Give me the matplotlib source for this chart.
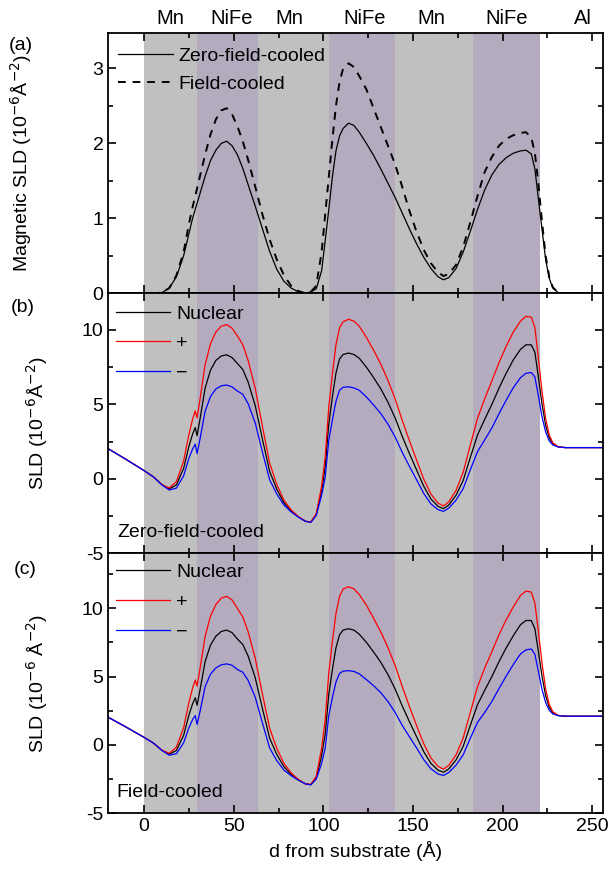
import numpy as np
import matplotlib
matplotlib.use('Agg')
import matplotlib.pyplot as plt
from matplotlib.lines import Line2D
from matplotlib.ticker import MultipleLocator

plt.rcParams['font.family'] = ['Liberation Sans', 'DejaVu Sans']
plt.rcParams['font.size'] = 13
plt.rcParams['axes.unicode_minus'] = False

# depth grid (Angstrom)
d = [-20, -10, 0, 5, 10, 14, 18, 22, 25, 27, 28.5, 29.5, 31, 34, 37, 40, 43, 46, 49, 52,
     55, 58, 62, 66, 70, 74, 78, 82, 86, 90, 93, 96, 99, 101, 103, 105, 107, 109, 111, 114,
     117, 120, 124, 128, 132, 136, 140, 144, 148, 152, 156, 160, 164, 167, 170, 174, 178, 182, 186, 190,
     194, 198, 202, 206, 210, 213, 216, 218, 220, 222, 224, 226, 228, 231, 235, 245, 260]

# (a) magnetic SLD
mag_zfc = [0, 0, 0, 0, 0.01, 0.07, 0.22, 0.5, 0.8, 1.0, 1.12, 1.2, 1.32, 1.56, 1.77, 1.91, 2.0, 2.03, 1.97, 1.85,
           1.67, 1.45, 1.16, 0.86, 0.56, 0.32, 0.16, 0.07, 0.02, 0.0, 0.02, 0.06, 0.3, 0.7, 1.12, 1.55, 1.9, 2.1, 2.2, 2.27,
           2.24, 2.15, 2.0, 1.84, 1.66, 1.47, 1.28, 1.07, 0.86, 0.66, 0.48, 0.33, 0.22, 0.18, 0.21, 0.33, 0.55, 0.83, 1.12, 1.38,
           1.58, 1.72, 1.81, 1.87, 1.9, 1.91, 1.86, 1.66, 1.25, 0.85, 0.45, 0.2, 0.07, 0.01, 0, 0, 0]
mag_fc = [0, 0, 0, 0, 0.01, 0.07, 0.24, 0.55, 0.93, 1.15, 1.3, 1.4, 1.55, 1.85, 2.12, 2.32, 2.44, 2.47, 2.39, 2.23,
          2.03, 1.78, 1.42, 1.05, 0.72, 0.45, 0.24, 0.1, 0.03, 0.0, 0.02, 0.1, 0.55, 1.05, 1.55, 2.05, 2.5, 2.82, 3.0, 3.07,
          3.02, 2.9, 2.72, 2.47, 2.22, 1.97, 1.72, 1.42, 1.1, 0.82, 0.58, 0.4, 0.28, 0.23, 0.26, 0.38, 0.62, 0.95, 1.3, 1.62,
          1.82, 1.97, 2.06, 2.11, 2.14, 2.15, 2.08, 1.87, 1.45, 0.95, 0.5, 0.22, 0.08, 0.01, 0, 0, 0]

# (b) zero-field-cooled SLD
nuc_zfc = [2.02, 1.3, 0.55, 0.15, -0.4, -0.68, -0.4, 0.7, 2.2, 3.0, 3.45, 2.9, 3.9, 6.1, 7.3, 7.95, 8.25, 8.33, 8.15, 7.75,
           7.35, 6.5, 4.9, 2.65, 0.5, -0.7, -1.6, -2.15, -2.55, -2.85, -2.9, -2.4, -0.8, 0.8, 3.7, 5.5, 7.1, 8.05, 8.35, 8.45,
           8.35, 8.1, 7.5, 6.8, 6.05, 5.15, 4.1, 2.85, 1.7, 0.6, -0.5, -1.35, -1.85, -2.0, -1.75, -1.1, -0.1, 1.45, 2.95, 4.0,
           5.0, 6.1, 7.1, 8.0, 8.7, 9.0, 9.0, 8.5, 6.8, 5.0, 3.6, 2.75, 2.35, 2.15, 2.1, 2.1, 2.1]
up_zfc = [2.02, 1.3, 0.55, 0.15, -0.39, -0.61, -0.18, 1.2, 3.0, 4.0, 4.57, 4.1, 5.22, 7.66, 9.07, 9.86, 10.25, 10.36, 10.12, 9.6,
          9.02, 7.95, 6.06, 3.51, 1.06, -0.38, -1.44, -2.08, -2.53, -2.85, -2.88, -2.34, -0.5, 1.5, 4.82, 7.05, 9.0, 10.15, 10.55, 10.72,
          10.59, 10.25, 9.5, 8.64, 7.71, 6.62, 5.38, 3.92, 2.56, 1.26, -0.02, -1.02, -1.63, -1.82, -1.54, -0.77, 0.45, 2.28, 4.07, 5.38,
          6.58, 7.82, 8.91, 9.87, 10.6, 10.91, 10.86, 10.16, 8.05, 5.85, 4.05, 2.95, 2.42, 2.16, 2.1, 2.1, 2.1]
dn_zfc = [2.02, 1.3, 0.55, 0.15, -0.41, -0.75, -0.62, 0.2, 1.4, 2.0, 2.33, 1.7, 2.58, 4.54, 5.53, 6.04, 6.25, 6.3, 6.18, 5.9,
          5.68, 5.05, 3.74, 1.79, -0.06, -1.02, -1.76, -2.22, -2.57, -2.85, -2.92, -2.46, -1.1, 0.1, 2.58, 3.95, 5.2, 5.95, 6.15, 6.18,
          6.11, 5.95, 5.5, 4.96, 4.39, 3.68, 2.82, 1.78, 0.84, -0.06, -0.98, -1.68, -2.07, -2.18, -1.96, -1.43, -0.65, 0.62, 1.83, 2.62,
          3.42, 4.38, 5.29, 6.13, 6.8, 7.09, 7.14, 6.84, 5.55, 4.15, 3.15, 2.55, 2.28, 2.14, 2.1, 2.1, 2.1]

# (c) field-cooled SLD
nuc_fc = [2.02, 1.3, 0.55, 0.15, -0.4, -0.68, -0.4, 0.7, 2.2, 3.0, 3.45, 2.9, 3.9, 6.1, 7.3, 7.95, 8.3, 8.4, 8.22, 7.75,
          7.35, 6.5, 4.9, 2.65, 0.5, -0.7, -1.6, -2.15, -2.55, -2.85, -2.9, -2.4, -0.8, 0.8, 3.7, 5.5, 7.1, 8.05, 8.4, 8.5,
          8.4, 8.1, 7.5, 6.8, 6.05, 5.15, 4.1, 2.85, 1.7, 0.6, -0.5, -1.35, -1.85, -2.0, -1.75, -1.1, -0.1, 1.45, 2.95, 4.0,
          5.0, 6.1, 7.1, 8.0, 8.8, 9.1, 9.1, 8.5, 6.8, 5.0, 3.6, 2.75, 2.35, 2.15, 2.1, 2.1, 2.1]
up_fc = [2.02, 1.3, 0.55, 0.15, -0.39, -0.61, -0.16, 1.25, 3.13, 4.15, 4.75, 4.3, 5.45, 7.95, 9.42, 10.27, 10.74, 10.87, 10.61, 9.98,
         9.38, 8.28, 6.32, 3.7, 1.22, -0.25, -1.36, -2.05, -2.52, -2.85, -2.88, -2.3, -0.25, 1.85, 5.25, 7.55, 9.6, 10.87, 11.4, 11.57,
         11.42, 11.0, 10.22, 9.27, 8.27, 7.12, 5.82, 4.27, 2.8, 1.42, 0.08, -0.95, -1.57, -1.77, -1.49, -0.72, 0.52, 2.4, 4.25, 5.62,
         6.82, 8.07, 9.16, 10.11, 10.94, 11.25, 11.18, 10.37, 8.25, 5.95, 4.1, 2.97, 2.43, 2.16, 2.1, 2.1, 2.1]
dn_fc = [2.02, 1.3, 0.55, 0.15, -0.41, -0.75, -0.64, 0.15, 1.27, 1.85, 2.15, 1.5, 2.35, 4.25, 5.18, 5.63, 5.86, 5.93, 5.83, 5.52,
         5.32, 4.72, 3.48, 1.6, -0.22, -1.15, -1.84, -2.25, -2.58, -2.85, -2.92, -2.5, -1.35, -0.25, 2.15, 3.45, 4.6, 5.23, 5.4, 5.43,
         5.38, 5.2, 4.78, 4.33, 3.83, 3.18, 2.38, 1.43, 0.6, -0.22, -1.08, -1.75, -2.13, -2.23, -2.01, -1.48, -0.72, 0.5, 1.65, 2.38,
         3.18, 4.13, 5.04, 5.89, 6.66, 6.95, 7.02, 6.63, 5.35, 4.05, 3.1, 2.53, 2.27, 2.14, 2.1, 2.1, 2.1]

# layer stack
layer_names = ['Mn', 'NiFe', 'Mn', 'NiFe', 'Mn', 'NiFe', 'Al']
layer_edges = [0, 29.7, 63.3, 103.3, 140.1, 183.2, 220.7, 260]
layer_colors = ['#c0c0c0', '#b4abbe', '#c0c0c0', '#b4abbe', '#c0c0c0', '#b4abbe', None]
label_x = [14.8, 49, 81, 123, 160, 202, 245]

fig = plt.figure(figsize=(6.11, 8.8), dpi=100)
L, W, H = 0.1773, 0.8096, 0.2955
ax_a = fig.add_axes([L, 0.6667, W, H])
ax_b = fig.add_axes([L, 0.3712, W, H])
ax_c = fig.add_axes([L, 0.0758, W, H])

for ax in (ax_a, ax_b, ax_c):
    for i in range(len(layer_names)):
        if layer_colors[i]:
            ax.axvspan(layer_edges[i], layer_edges[i + 1], color=layer_colors[i], lw=0, zorder=0)
    ax.set_xlim(-20, 256)
    ax.xaxis.set_major_locator(MultipleLocator(50))
    ax.xaxis.set_minor_locator(MultipleLocator(25))
    ax.yaxis.set_minor_locator(MultipleLocator(2.5))
    ax.tick_params(which='both', direction='in', top=True, right=True, width=1.2, labelsize=14)
    ax.tick_params(which='major', length=6)
    ax.tick_params(which='minor', length=3.5)
    for s in ax.spines.values():
        s.set_linewidth(1.3)

# (a)
ax_a.plot(d, mag_zfc, color='k', lw=0.9)
ax_a.plot(d, mag_fc, color='k', lw=1.4, ls=(0, (4, 3.5)))
ax_a.set_ylim(0, 3.47)
ax_a.yaxis.set_major_locator(MultipleLocator(1))
ax_a.yaxis.set_minor_locator(MultipleLocator(0.5))
ax_a.set_xticklabels([])
ax_a.set_ylabel('Magnetic SLD (10$^{-6}$Å$^{-2}$)', fontsize=14)
ax_a.yaxis.set_label_coords(-0.15, 0.5)
h_a = [Line2D([], [], color='k', lw=0.9), Line2D([], [], color='k', lw=1.4, ls=(0, (4, 3.5)))]
ax_a.legend(h_a, ['Zero-field-cooled', 'Field-cooled'], loc='upper left', bbox_to_anchor=(0.02, 0.945),
            frameon=False, fontsize=14, handlelength=2.8, handletextpad=0.3, labelspacing=0.5,
            borderpad=0, borderaxespad=0)
for name, x in zip(layer_names, label_x):
    ax_a.text(x, 1.055, name, transform=ax_a.get_xaxis_transform(), ha='center', va='center', fontsize=14.5)

# (b)
ax_b.plot(d, nuc_zfc, color='k', lw=0.9)
ax_b.plot(d, up_zfc, color='#ff0000', lw=0.9)
ax_b.plot(d, dn_zfc, color='#0000ff', lw=0.9)
ax_b.set_ylim(-5, 12.46)
ax_b.yaxis.set_major_locator(MultipleLocator(5))
ax_b.set_xticklabels([])
ax_b.set_ylabel('SLD (10$^{-6}$Å$^{-2}$)', fontsize=14)
ax_b.yaxis.set_label_coords(-0.118, 0.5)
ax_b.text(0.018, 0.08, 'Zero-field-cooled', transform=ax_b.transAxes, ha='left', va='center', fontsize=14)

# (c)
ax_c.plot(d, nuc_fc, color='k', lw=0.9)
ax_c.plot(d, up_fc, color='#ff0000', lw=0.9)
ax_c.plot(d, dn_fc, color='#0000ff', lw=0.9)
ax_c.set_ylim(-5, 14.02)
ax_c.yaxis.set_major_locator(MultipleLocator(5))
ax_c.set_ylabel('SLD (10$^{-6}$ Å$^{-2}$)', fontsize=14)
ax_c.yaxis.set_label_coords(-0.118, 0.5)
ax_c.set_xlabel('d from substrate (Å)', fontsize=14)
ax_c.text(0.016, 0.08, 'Field-cooled', transform=ax_c.transAxes, ha='left', va='center', fontsize=14)

h_bc = [Line2D([], [], color='k', lw=0.9), Line2D([], [], color='#ff0000', lw=0.9),
        Line2D([], [], color='#0000ff', lw=0.9)]
for ax, top in ((ax_b, 0.955), (ax_c, 0.96)):
    ax.legend(h_bc, ['Nuclear', '+', '\u2212'], loc='upper left', bbox_to_anchor=(0.015, top),
              frameon=False, fontsize=14, handlelength=2.8, handletextpad=0.3, labelspacing=0.62,
              borderpad=0, borderaxespad=0)

fig.text(21 / 611, 1 - 45 / 880, '(a)', ha='center', va='center', fontsize=14)
fig.text(23 / 611, 1 - 308 / 880, '(b)', ha='center', va='center', fontsize=14)
fig.text(25 / 611, 1 - 570 / 880, '(c)', ha='center', va='center', fontsize=14)

fig.savefig('out.png', dpi=100)
